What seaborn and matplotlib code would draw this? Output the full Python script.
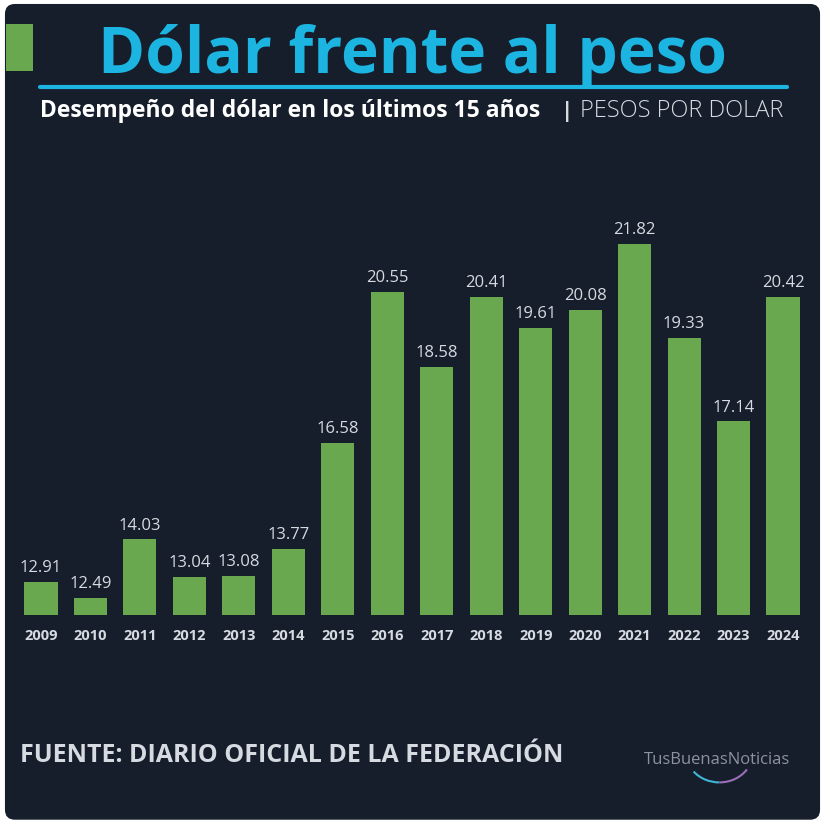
import matplotlib.pyplot as plt
import seaborn as sns
import pandas as pd
from matplotlib.patches import FancyBboxPatch, Rectangle, Arc

# datos
anios = ["2009", "2010", "2011", "2012", "2013", "2014", "2015", "2016",
         "2017", "2018", "2019", "2020", "2021", "2022", "2023", "2024"]
pesos = [12.91, 12.49, 14.03, 13.04, 13.08, 13.77, 16.58, 20.55,
         18.58, 20.41, 19.61, 20.08, 21.82, 19.33, 17.14, 20.42]

fondo = "#161d2b"
verde = "#6aa84f"
cian = "#1cb5e2"
gris = "#d6dbe1"

sns.set_style("dark")
plt.rcParams['font.family'] = ['Open Sans', 'DejaVu Sans']

fig = plt.figure(figsize=(8.25, 8.29), dpi=100)
fig.patch.set_facecolor("white")

# panel oscuro con esquinas redondeadas
panel = FancyBboxPatch((0.006, 0.01), 0.988, 0.984, boxstyle="round,pad=0,rounding_size=0.012",
                       transform=fig.transFigure, facecolor=fondo, edgecolor="none", zorder=-10)
fig.patches.append(panel)

# encabezado
fig.patches.append(Rectangle((0.007, 0.913), 0.033, 0.057, transform=fig.transFigure,
                             facecolor=verde, edgecolor="none", zorder=-5))
fig.text(0.5, 0.932, "Dólar frente al peso", color=cian, fontsize=46, fontweight="bold",
         ha="center", va="center")
fig.add_artist(plt.Line2D([0.048, 0.954], [0.894, 0.894], transform=fig.transFigure,
                          color=cian, lw=3))
fig.text(0.048, 0.866, "Desempeño del dólar en los últimos 15 años", color="white",
         fontsize=16.5, fontweight="bold", ha="left", va="center")
fig.text(0.68, 0.866, "|", color=gris, fontsize=16, fontweight="bold", ha="left", va="center")
fig.text(0.703, 0.866, "PESOS POR DOLAR", color=gris, fontsize=17, fontweight="light",
         ha="left", va="center")

# barras
ax = fig.add_axes([0.0197, 0.2569, 0.9594, 0.5018])
ax.set_facecolor(fondo)
df = pd.DataFrame({"anio": anios, "pesos": pesos})
sns.barplot(data=df, x="anio", y="pesos", color=verde, saturation=1, width=0.67,
            linewidth=0, edgecolor="none", ax=ax)
ax.set_xlim(-0.5, len(anios) - 0.5)
ax.set_ylim(12.04, 23)
for i, v in enumerate(pesos):
    ax.annotate(f"{v:.2f}", (i, v), xytext=(0, 5), textcoords="offset points",
                ha="center", va="bottom", color=gris, fontsize=12)
ax.set_xlabel("")
ax.set_ylabel("")
ax.set_yticks([])
ax.tick_params(axis="x", length=0, pad=9, colors=gris)
for lab in ax.get_xticklabels():
    lab.set_fontweight("bold")
    lab.set_fontsize(10.5)
for s in ax.spines.values():
    s.set_visible(False)
ax.grid(False)

# pie
fig.text(0.024, 0.089, "FUENTE: DIARIO OFICIAL DE LA FEDERACIÓN", color=gris,
         fontsize=18, fontweight="bold", ha="left", va="center")
fig.text(0.869, 0.083, "TusBuenasNoticias", color="#8d939c", fontsize=12,
         ha="center", va="center")
fig.add_artist(Arc((0.872, 0.09), 0.08, 0.07, theta1=215, theta2=270,
                   transform=fig.transFigure, color="#3fb6d6", lw=1.5))
fig.add_artist(Arc((0.872, 0.09), 0.08, 0.07, theta1=270, theta2=330,
                   transform=fig.transFigure, color="#9a6fb8", lw=1.5))

fig.savefig("out.png", dpi=100, facecolor=fig.get_facecolor())
